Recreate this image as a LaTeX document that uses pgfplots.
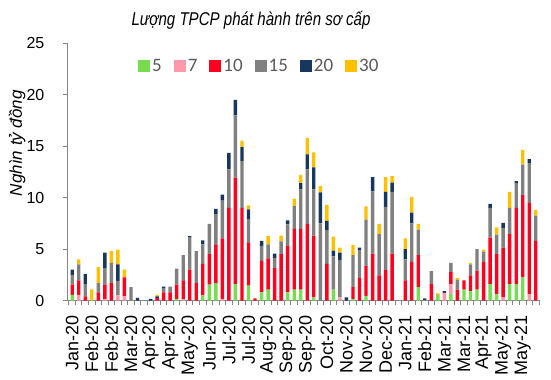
\documentclass[border=0pt]{standalone}
\usepackage{pgfplots}
\usepackage{pgfplotstable}
\pgfplotsset{compat=1.18}
\usepackage{fontspec}
\setmainfont{Liberation Sans}
\newfontfamily\titlefont[FakeStretch=0.815]{Liberation Sans}
\newfontfamily\legfont{Carlito}
\definecolor{cfive}{RGB}{120,220,80}
\definecolor{cseven}{RGB}{255,153,170}
\definecolor{cten}{RGB}{255,0,30}
\definecolor{cfifteen}{RGB}{128,128,128}
\definecolor{ctwenty}{RGB}{23,55,94}
\definecolor{cthirty}{RGB}{255,192,0}
\definecolor{axisgray}{RGB}{134,134,134}
\definecolor{leggray}{RGB}{89,89,89}
\pgfplotsset{sqlegend/.style={legend image code/.code={\fill[##1] (0bp,-6bp) rectangle (12bp,6bp);}}}

\pgfplotstableread{
x s5 s7 s10 s15 s20 s30
0 0.55 0 1.0 0.95 0.5 0
1 0 0.55 1.4 1.55 0 0.5
2 0 0 0.4 1.15 1.05 0
3 0 0 0 0 0 1.07
4 0 0 0.8 0.9 0 1.55
5 0 0.15 1.4 1.55 1.55 0
6 0 0 1.7 1.95 0 1.15
7 0 0.5 0 1.4 1.6 1.45
8 0 0.4 1.85 0 0 0.75
9 0 0 0 1.3 0 0
10 0 0 0 0 0.25 0
11 0 0 0 0 0 0
12 0 0 0 0 0.15 0
13 0 0 0.25 0 0.15 0.15
14 0 0 0.8 0.35 0.2 0
15 0 0 0.8 0.55 0 0
16 0.15 0 1.4 1.55 0 0
17 0 0.1 1.85 2.45 0 0
18 0 0 3.0 3.1 0.15 0
19 0 0 1.7 3.1 0 0
20 0.5 0 3.05 1.9 0.4 0
21 1.55 0 2.95 2.95 0 0
22 1.7 0 3.7 3.0 0.5 0
23 0 0.15 5.9 3.65 0.6 0
24 0 0 9.0 3.75 1.6 0
25 1.6 0 10.35 6.05 1.5 0
26 0 0 9.0 4.55 1.35 0.65
27 1.45 0 4.2 2.2 1.0 0.4
28 0 0 0.2 0 0 0
29 0.8 0 3.05 1.45 0.5 0
30 1.05 0 3.05 1.35 0 0.8
31 0 0 3.15 1.0 0.4 0
32 0 0 4.5 1.25 0 0.55
33 0.8 0 4.5 2.1 0.4 0
34 1.05 0 5.9 2.25 0 0.7
35 1.05 0 5.9 3.85 0.6 0.8
36 0 0 7.45 5.3 1.45 1.6
37 0.3 0 6.0 4.5 2.15 1.45
38 0 0 0 7.5 3.0 0.65
39 0 0 3.55 3.3 0.9 1.55
40 1.05 0 0 3.25 0.55 1.35
41 0 0.3 0 3.65 0.7 0.5
42 0 0 0 0 0.3 0
43 0.15 0 1.15 3.1 0 1.0
44 0 0 2.2 2.7 0.25 0
45 0.45 0 2.9 4.5 0 1.3
46 0 0 4.55 6.05 1.4 0
47 0 0 2.45 4.0 0 1.0
48 0 0 2.95 6.15 1.45 1.45
49 0 0 4.55 6.0 0.9 0.65
50 0 0 0 0 0 0
51 0 0 1.95 2.05 1.0 1.05
52 0 0 3.75 3.75 1.05 1.5
53 1.3 0 3.1 2.5 0 0.55
54 0 0 0 0.05 0.15 0
55 0 0 1.6 1.25 0 0
56 0.55 0 0 0 0 0.15
57 0 0.75 0 0 0.15 0
58 0.65 0.95 1.15 0.9 0 0
59 0 0 1.05 0.95 0 0.2
60 1.05 0 0.9 0 0 0
61 0.9 0 1.55 1.05 0 0.15
62 1.05 0 1.85 2.1 0 0
63 0 0 3.75 1.0 0 0.2
64 1.6 0 4.5 2.9 0.4 0
65 0.65 0 3.85 1.9 0 0.7
66 0 0.3 4.85 1.9 0.5 0
67 1.6 0 4.85 2.55 0 1.55
68 1.6 0 7.4 2.35 0.25 0
69 2.25 0 8.0 2.95 0 1.45
70 0 0.6 8.9 3.85 0.4 0
71 0 0 5.8 2.45 0 0.55
}\datatable

\begin{document}
\begin{tikzpicture}
\useasboundingbox (-67.5bp,-79.5bp) rectangle (483.5bp,300.5bp);
\begin{axis}[
  at={(0,0)}, anchor=south west,
  scale only axis,
  width=473bp, height=257.2bp,
  ybar stacked, bar width=3.4bp,
  xmin=-0.72, xmax=71.72,
  ymin=0, ymax=25,
  ytick={0,5,10,15,20,25},
  xtick={0,3,...,69},
  xticklabels={Jan-20,Feb-20,Feb-20,Mar-20,Apr-20,Apr-20,May-20,Jun-20,Jul-20,Jul-20,Aug-20,Sep-20,Sep-20,Oct-20,Nov-20,Nov-20,Dec-20,Jan-21,Feb-21,Mar-21,Mar-21,Apr-21,May-21,May-21},
  minor xtick={-0.5,0.5,...,71.5},
  axis lines*=left,
  axis line style={draw=axisgray, line width=1.6bp},
  tick align=outside,
  major tick length=4bp, minor tick length=4bp,
  major x tick style={draw=none},
  minor x tick style={draw=axisgray, line width=1bp},
  ytick style={draw=axisgray, line width=1bp},
  /pgf/number format/assume math mode=true,
  yticklabel style={font=\fontsize{16bp}{18bp}\selectfont, inner xsep=0bp, xshift=-19bp},
  xticklabel style={font=\fontsize{18bp}{20bp}\selectfont, rotate=90, anchor=east, inner xsep=0bp, inner ysep=0bp, xshift=-10.5bp},
  legend style={at={(axis description cs:0.149,0.9117)}, anchor=west, draw=none, fill=none,
    inner sep=0pt, legend columns=6,
    font=\legfont\fontsize{19bp}{21bp}\selectfont, text=leggray,
    nodes={inner xsep=2bp, inner ysep=0bp},
    /tikz/every even column/.append style={column sep=10bp}},
  clip=false,
]
\addplot[fill=cfive, draw=none, sqlegend] table[x=x,y=s5]{\datatable};
\addplot[fill=cseven, draw=none, sqlegend] table[x=x,y=s7]{\datatable};
\addplot[fill=cten, draw=none, sqlegend] table[x=x,y=s10]{\datatable};
\addplot[fill=cfifteen, draw=none, sqlegend] table[x=x,y=s15]{\datatable};
\addplot[fill=ctwenty, draw=none, sqlegend] table[x=x,y=s20]{\datatable};
\addplot[fill=cthirty, draw=none, sqlegend] table[x=x,y=s30]{\datatable};
\legend{5,7,10,15,20,30}
\node[font=\titlefont\itshape\fontsize{18.5bp}{20bp}\selectfont] at (axis description cs:0.388,1.0906) {Lượng TPCP phát hành trên sơ cấp};
\node[rotate=90, font=\itshape\fontsize{17bp}{19bp}\selectfont] at (axis description cs:-0.1068,0.612) {Nghìn tỷ đồng};
\end{axis}
\end{tikzpicture}
\end{document}
